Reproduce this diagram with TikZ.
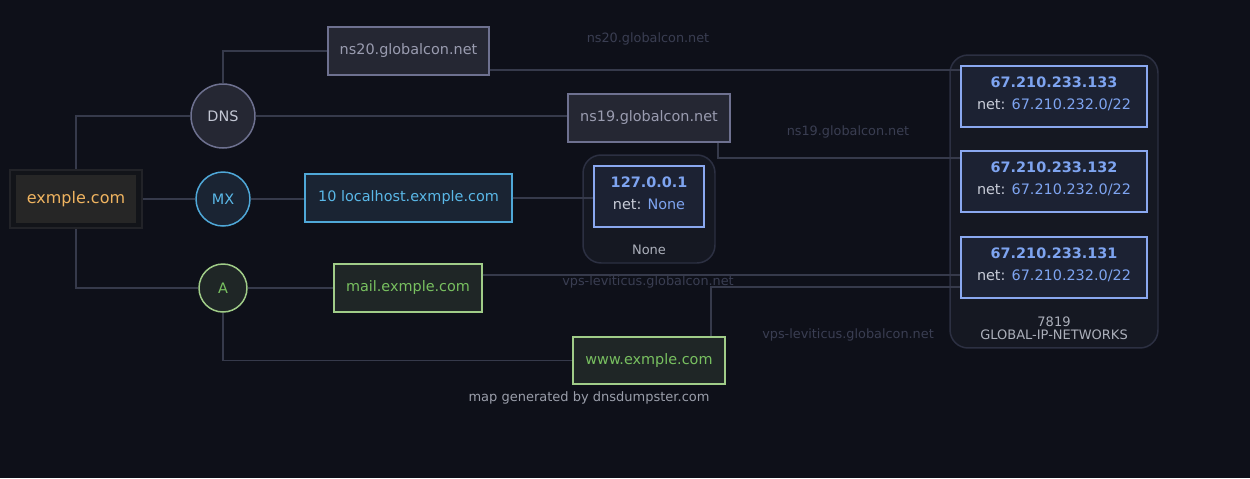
\documentclass[tikz,border=0pt]{standalone}
\usepackage{fontspec}
\setmainfont{DejaVu Sans}

\begin{document}
\begin{tikzpicture}[x=0.02cm, y=-0.02cm,
    every node/.style={font=\fontsize{8.2}{12.5}\selectfont, inner sep=0pt},
    link/.style={draw=linkgray, line width=0.75pt},
    recbox/.style={draw, line width=0.85pt, minimum height=0.96cm},
    rectype/.style={circle, draw, line width=0.85pt},
    ipbox/.style={draw=ipline, fill=ipfill, line width=0.85pt, minimum width=3.72cm,
      minimum height=1.22cm, text=netgray},
    group/.style={draw=groupline, fill=groupfill, line width=0.85pt, rounded corners=0.36cm},
    hostlabel/.style={text=faint, font=\fontsize{7.3}{9}\selectfont},
    smalltext/.style={font=\fontsize{7.4}{7.6}\selectfont, align=center}]
    \definecolor{bg}{HTML}{0E1019}
    \definecolor{linkgray}{HTML}{363A4B}
    \definecolor{faint}{HTML}{3A3E52}
    \definecolor{domline}{HTML}{222328}
    \definecolor{domfill}{HTML}{121419}
    \definecolor{nsfill}{HTML}{252733}
    \definecolor{nsline}{HTML}{6E7190}
    \definecolor{nstext}{HTML}{9A9CB0}
    \definecolor{mxfill}{HTML}{1A2433}
    \definecolor{mxline}{HTML}{4FA8D8}
    \definecolor{mxtext}{HTML}{5AB8E8}
    \definecolor{afill}{HTML}{1F2626}
    \definecolor{aline}{HTML}{A0CC88}
    \definecolor{atext}{HTML}{78C060}
    \definecolor{ipline}{HTML}{8AA8F0}
    \definecolor{ipfill}{HTML}{1C2233}
    \definecolor{ipblue}{HTML}{7EA4F0}
    \definecolor{netgray}{HTML}{C8CCD8}
    \definecolor{groupline}{HTML}{2C3042}
    \definecolor{groupfill}{HTML}{151822}
    \definecolor{domtext}{HTML}{F0B460}
    \definecolor{credit}{HTML}{9A9EAA}
    \def\addr#1#2{\raisebox{1.2pt}[\height][\depth]{\begin{tabular}{@{}c@{}}\textbf{\color{ipblue}#1}\\ net: {\color{ipblue}#2}\end{tabular}}}
    \def\ip#1{\addr{#1}{67.210.232.0/22}}

    \fill[bg] (0,0) rectangle (1250,478);
    \useasboundingbox (0,0) rectangle (1250,478);

    % domain and record types
    \node[draw=domline, fill=domfill, line width=0.85pt, minimum width=2.64cm, minimum height=1.16cm] (dom) at (76,199) {};
    \node[fill=black!85!white, minimum width=2.42cm, minimum height=0.96cm, text=domtext, font=\fontsize{9.1}{11}\selectfont] (domin) at (76,199) {exmple.com};
    \node[rectype, draw=nsline, fill=nsfill, text=netgray!90!nstext, minimum size=1.28cm] (dns) at (223,116) {DNS};
    \node[rectype, draw=mxline, fill=mxfill, text=mxtext, minimum size=1.08cm] (mx) at (223,199) {MX};
    \node[rectype, draw=aline, fill=afill, text=atext, minimum size=0.96cm] (a) at (223,288) {A};

    % records
    \node[recbox, draw=nsline, fill=nsfill, text=nstext, minimum width=3.22cm] (ns20) at (408.5,51) {ns20.globalcon.net};
    \node[recbox, draw=nsline, fill=nsfill, text=nstext, minimum width=3.24cm] (ns19) at (649,118) {ns19.globalcon.net};
    \node[recbox, draw=mxline, fill=mxfill, text=mxtext, minimum width=4.14cm] (mxhost) at (408.5,198) {10 localhost.exmple.com};
    \node[recbox, draw=aline, fill=afill, text=atext, minimum width=2.96cm] (mail) at (408,288) {mail.exmple.com};
    \node[recbox, draw=aline, fill=afill, text=atext, minimum width=3.04cm, minimum height=0.94cm] (www) at (649,360.5) {www.exmple.com};

    % address groups
    \node[group, minimum width=2.64cm, minimum height=2.16cm] (grpnone) at (649,209) {};
    \node[ipbox, minimum width=2.2cm] (iplocal) at (649,196.5) {\addr{127.0.0.1}{None}};
    \node[smalltext, text=netgray!85!bg] (nonelbl) at (649,250) {None};
    \node[group, minimum width=4.16cm, minimum height=5.86cm] (grpglobal) at (1054,201.5) {};
    \node[ipbox] (ipA) at (1054,96.5) {\ip{67.210.233.133}};
    \node[ipbox] (ipB) at (1054,181.5) {\ip{67.210.233.132}};
    \node[ipbox] (ipC) at (1054,267.5) {\ip{67.210.233.131}};
    \node[smalltext, text=netgray!85!bg] (asnlbl) at (1054,328.5) {7819\\GLOBAL-IP-NETWORKS};

    % host labels
    \node[hostlabel] (lblns20) at (648,39) {ns20.globalcon.net};
    \node[hostlabel] (lblns19) at (848,132) {ns19.globalcon.net};
    \node[hostlabel] (lblmail) at (648,282) {vps-leviticus.globalcon.net};
    \node[hostlabel] (lblwww) at (848,335) {vps-leviticus.globalcon.net};

    % links
    \draw[link] (dom.north) |- (dns.west);
    \draw[link] (dom.east) -- (mx.west);
    \draw[link] (dom.south) |- (a.west);
    \draw[link] (dns.north) |- (ns20.west);
    \draw[link] (dns.east) -- (dns.east -| ns19.west);
    \draw[link] (mx.east) -- (mx.east -| mxhost.west);
    \draw[link] (mxhost.east) -- (mxhost.east -| iplocal.west);
    \draw[link] (a.east) -- (mail.west);
    \draw[link] (a.south) |- (www.west);
    \coordinate (ns20out) at ([yshift=-0.38cm]ns20.east);
    \coordinate (ns19out) at ([xshift=1.38cm]ns19.south);
    \coordinate (mailout) at ([yshift=0.26cm]mail.east);
    \coordinate (wwwout) at ([xshift=1.24cm]www.north);
    \coordinate (ipBin) at ([yshift=0.47cm]ipB.west);
    \coordinate (ipCin) at ([yshift=-0.39cm]ipC.west);
    \draw[link] (ns20out) -- (ns20out -| ipA.west);
    \draw[link] (ns19out) |- (ipBin);
    \draw[link] (mailout) -- (mailout -| ipC.west);
    \draw[link] (wwwout) |- (ipCin);

    \node[smalltext, text=credit] (credit) at (589,398) {map generated by dnsdumpster.com};
  \end{tikzpicture}
\end{document}
